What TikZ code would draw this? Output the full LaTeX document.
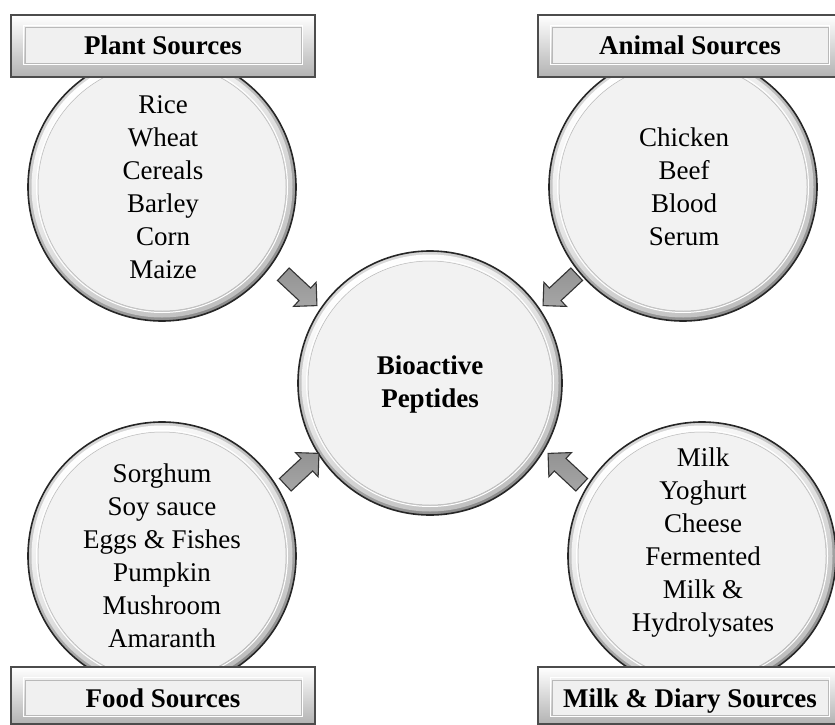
\documentclass[tikz,border=0pt]{standalone}
\usepackage{fontspec}
\setmainfont{Liberation Serif}
\usetikzlibrary{shapes.arrows}
\tikzset{
  bigtxt/.style={font=\fontsize{27}{33}\selectfont, align=center, inner sep=0pt, text=black},
  boldtxt/.style={font=\fontsize{27}{33}\selectfont\bfseries, align=center, inner sep=0pt, text=black},
  blockarrow/.style={single arrow, draw=black!80, line width=1.1pt, minimum height=46pt,
    minimum width=0pt, single arrow head extend=8pt, single arrow head indent=0pt,
    inner xsep=0pt, inner ysep=8pt, top color=gray!85, middle color=gray!30, bottom color=gray!70},
}
\newcommand{\bevelcircle}[3]{%
  \shade[top color=gray!30, bottom color=gray!90, shading angle=30] (#1,#2) circle[radius=#3];
  \shade[top color=white, bottom color=gray!50, shading angle=30] (#1,#2) circle[radius=#3-3.5];
  \draw[white, line width=1pt] (#1,#2) circle[radius=#3-8.5];
  \fill[gray!10] (#1,#2) circle[radius=#3-10];
  \draw[gray!55, line width=0.5pt] (#1,#2) circle[radius=#3-10];
  \draw[black!85, line width=1.6pt] (#1,#2) circle[radius=#3];
}
\newcommand{\bevelbox}[6]{%
  \shade[top color=white, middle color=gray!12, bottom color=gray!60] (#1,#2) rectangle (#3,#4);
  \draw[white, line width=1pt] ({#1+12.5},{#2+10.5}) rectangle ({#3-12.5},{#4-#6+1.5});
  \fill[gray!12] ({#1+14},{#2+#5}) rectangle ({#3-14},{#4-#6});
  \draw[gray!55, line width=0.6pt] ({#1+14},{#2+#5}) rectangle ({#3-14},{#4-#6});
  \draw[black!70, line width=1.6pt] (#1,#2) rectangle (#3,#4);
}
\begin{document}
\begin{tikzpicture}[x=1pt, y=-1pt]
\clip (0,0) rectangle (835,725);
\fill[white] (0,0) rectangle (835,725);

% circles
\bevelcircle{162}{187}{134}
\bevelcircle{683}{187}{134}
\bevelcircle{162}{556}{134}
\bevelcircle{702}{556}{134}
\bevelcircle{430}{383}{132}

\node[bigtxt] (plant) at (163,187) {Rice\\Wheat\\Cereals\\Barley\\Corn\\Maize};
\node[bigtxt] (animal) at (684,187) {Chicken\\Beef\\Blood\\Serum};
\node[bigtxt] (food) at (162,556) {Sorghum\\Soy sauce\\Eggs \& Fishes\\Pumpkin\\Mushroom\\Amaranth};
\node[bigtxt] (milk) at (703,543) {Milk\\Yoghurt\\Cheese\\Fermented\\Milk \&\\Hydrolysates};
\node[boldtxt] (bio) at (430,385) {Bioactive\\Peptides};

% arrows
\node[blockarrow, rotate=-43] (a1) at (297,287) {};
\node[blockarrow, rotate=-137] (a2) at (563,287) {};
\node[blockarrow, rotate=43] (a3) at (299,472) {};
\node[blockarrow, rotate=137] (a4) at (568,472) {};

% label boxes
\bevelbox{11}{15}{315}{77}{12}{14}
\bevelbox{538}{15}{842}{77}{12}{14}
\bevelbox{11}{667}{315}{724}{13}{9}
\bevelbox{538}{667}{842}{724}{13}{9}

\node[boldtxt, anchor=base] (plantlbl) at (163,55) {Plant Sources};
\node[boldtxt, anchor=base] (animallbl) at (690,55) {Animal Sources};
\node[boldtxt, anchor=base] (foodlbl) at (163,707) {Food Sources};
\node[boldtxt, anchor=base] (milklbl) at (690,707) {Milk \& Diary Sources};
\end{tikzpicture}
\end{document}
